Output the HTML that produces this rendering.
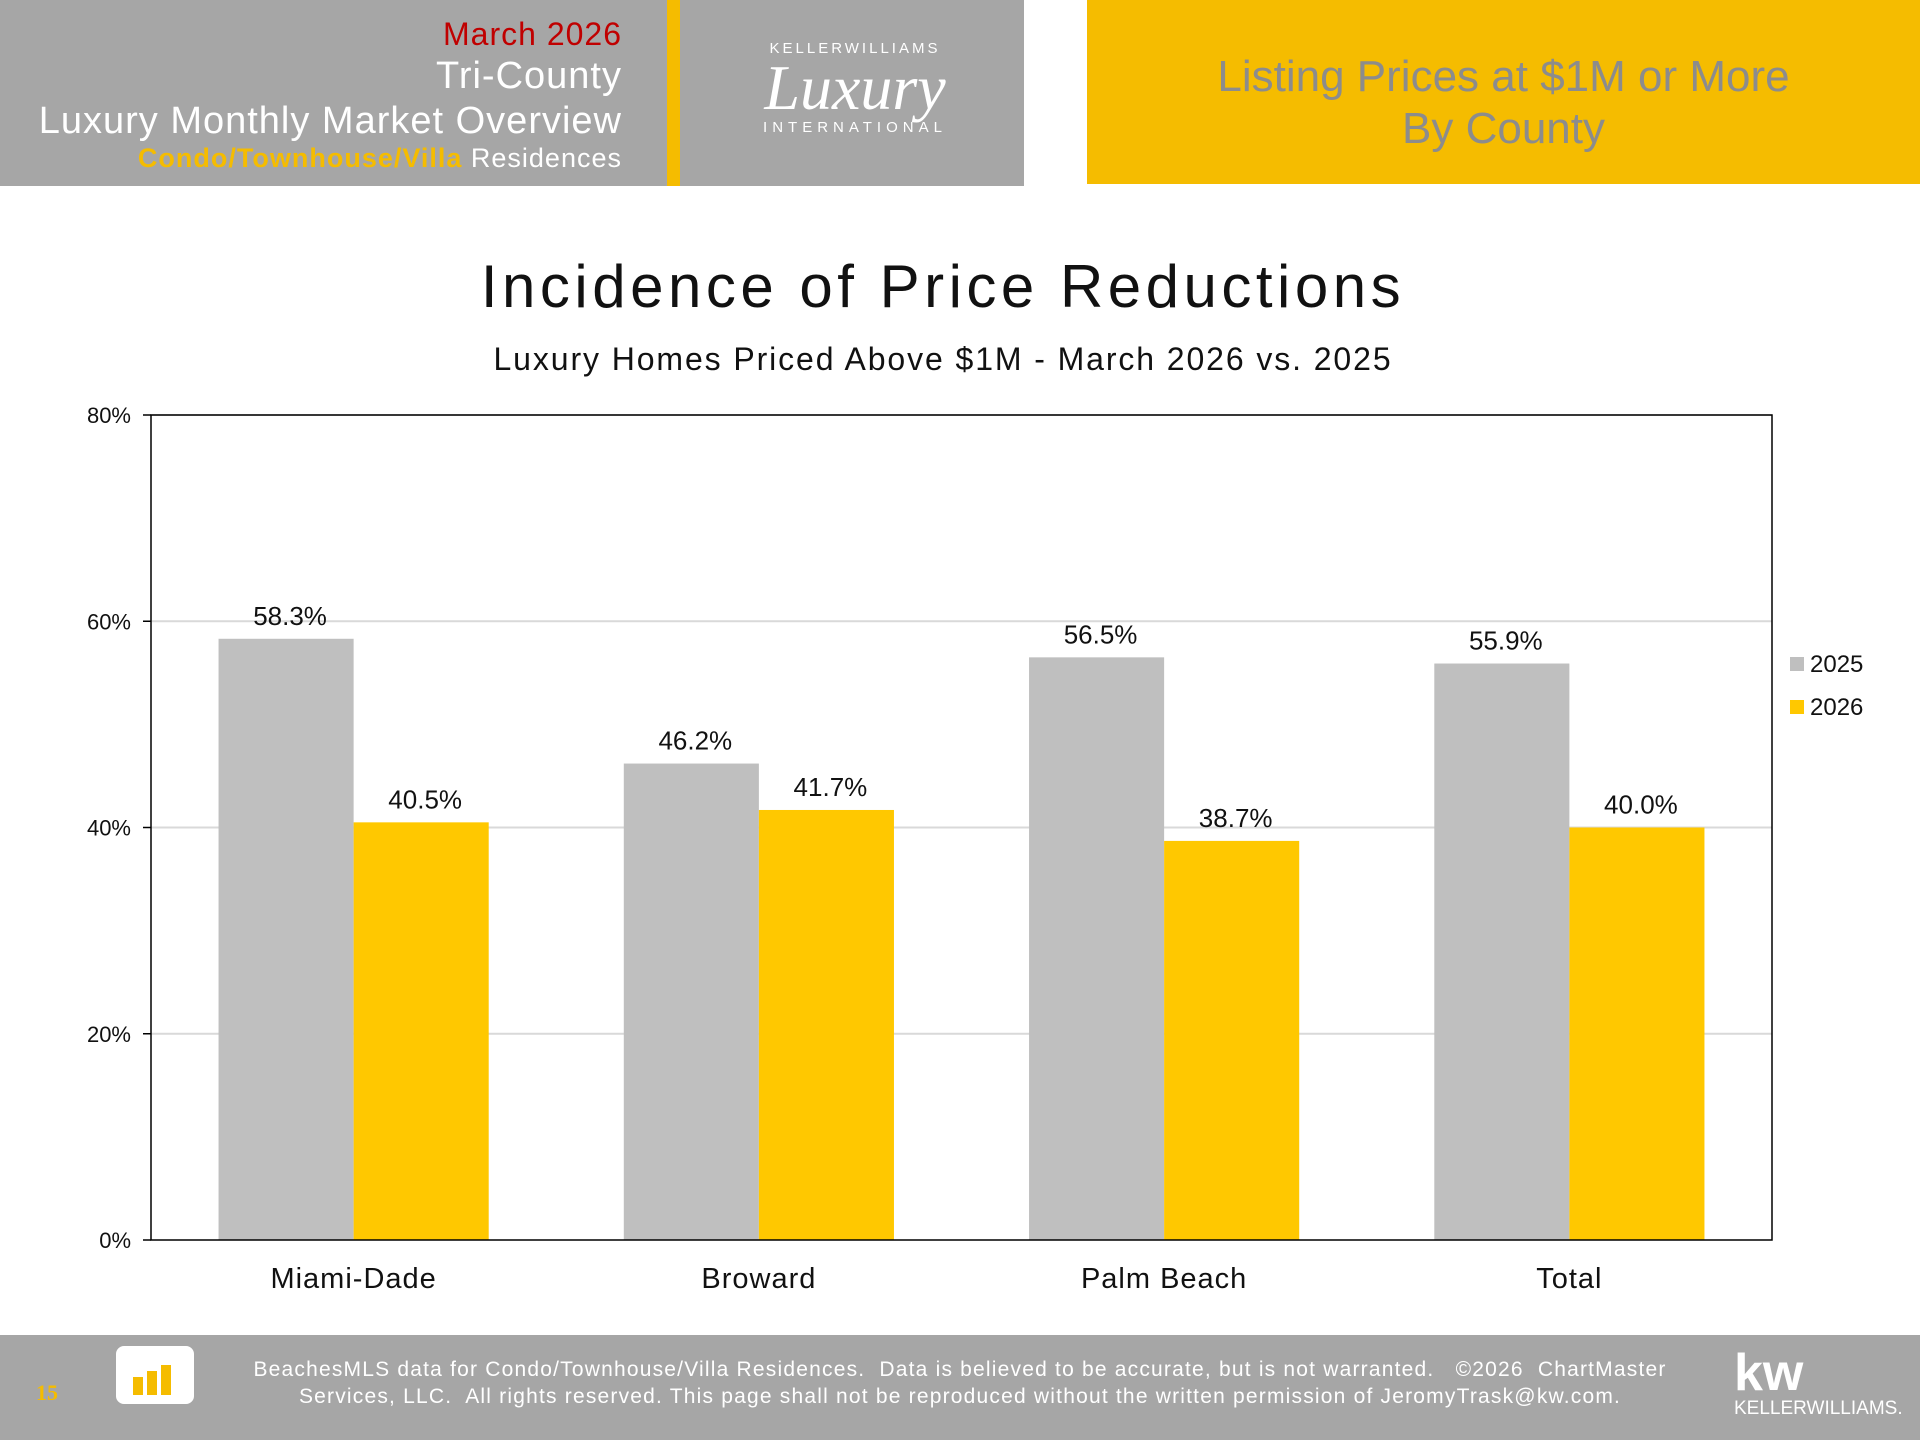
<!DOCTYPE html>
<html><head><meta charset="utf-8">
<style>
body{margin:0;width:1920px;height:1440px;position:relative;background:#fff;font-family:"Liberation Sans",sans-serif;overflow:hidden}
.abs{position:absolute}
</style></head><body>
<div class="abs" style="left:0;top:0;width:1024px;height:186px;background:#a6a6a6"></div>
<div class="abs" style="left:667px;top:0;width:13px;height:186px;background:#f5bc00"></div>
<div class="abs" style="right:1298px;top:16px;text-align:right;color:#fff;line-height:1.18;letter-spacing:1px">
<div style="color:#c00000;font-size:32px">March 2026</div>
<div style="font-size:38px">Tri-County</div>
<div style="font-size:38px">Luxury Monthly Market Overview</div>
<div style="font-size:27px"><b style="color:#f5bc00">Condo/Townhouse/Villa</b> Residences</div>
</div>
<div class="abs" style="left:700px;top:40px;width:310px;text-align:center;color:#fff">
<div style="font-size:15px;letter-spacing:3px">KELLERWILLIAMS</div>
<div style="font-family:'Liberation Serif',serif;font-style:italic;font-size:64px;line-height:62px">Luxury</div>
<div style="font-size:15px;letter-spacing:5px">INTERNATIONAL</div>
</div>
<div class="abs" style="left:1087px;top:0;width:833px;height:184px;background:#f5bc00;color:#8c8c8c;font-size:44px;text-align:center;display:flex;flex-direction:column;justify-content:center;line-height:52px;padding-top:22px;box-sizing:border-box">
<div>Listing Prices at $1M or More<br>By County</div></div>

<svg class="abs" style="left:0;top:0" width="1920" height="1440">
<text x="943" y="307" text-anchor="middle" font-size="60" letter-spacing="4.5" fill="#111">Incidence of Price Reductions</text>
<text x="943" y="370" text-anchor="middle" font-size="32" letter-spacing="1.9" fill="#111">Luxury Homes Priced Above $1M - March 2026 vs. 2025</text>
<g id="plot"></g>
</svg>

<div class="abs" style="left:0;top:1335px;width:1920px;height:105px;background:#a6a6a6"></div>
<div class="abs" style="left:36px;top:1380px;color:#f5bc00;font-weight:bold;font-size:22px;font-family:'Liberation Serif',serif">15</div>
<div class="abs" style="left:116px;top:1346px;width:72px;height:52px;border:3px solid #fff;border-radius:8px;background:#fff"><div style="position:absolute;left:14px;bottom:6px;width:10px;height:18px;background:#f5bc00"></div><div style="position:absolute;left:28px;bottom:6px;width:10px;height:24px;background:#f5bc00"></div><div style="position:absolute;left:42px;bottom:6px;width:10px;height:30px;background:#f5bc00"></div></div>
<div class="abs" style="left:230px;top:1356px;width:1460px;text-align:center;color:#fff;font-size:21px;line-height:27px;letter-spacing:1.2px">BeachesMLS data for Condo/Townhouse/Villa Residences.&nbsp; Data is believed to be accurate, but is not warranted.&nbsp;&nbsp; ©2026&nbsp; ChartMaster<br>Services, LLC.&nbsp; All rights reserved. This page shall not be reproduced without the written permission of JeromyTrask@kw.com.</div>
<div class="abs" style="left:1734px;top:1348px;color:#fff;text-align:left"><div style="font-size:52px;font-weight:bold;line-height:50px">kw</div><div style="font-size:19px">KELLERWILLIAMS.</div></div>

<script>
const categories=["Miami-Dade","Broward","Palm Beach","Total"];
const series2025=[58.3,46.2,56.5,55.9];
const series2026=[40.5,41.7,38.7,40.0];
const yTicks=[0,20,40,60,80];
const L=151,R=1772,T=415,B=1240,ymax=80;
const y=v=>B-(v/ymax)*(B-T);
const cw=(R-L)/categories.length;
const x=i=>L+cw*i;
const ns="http://www.w3.org/2000/svg";
const g=document.getElementById('plot');
function mk(t,a){const e=document.createElementNS(ns,t);for(const k in a)e.setAttribute(k,a[k]);g.appendChild(e);return e;}
yTicks.forEach(t=>{
 if(t>0){const l=mk('line',{x1:L,x2:R,y1:y(t),y2:y(t),stroke:'#d9d9d9','stroke-width':2});
 
 }
 const tk=mk('line',{x1:L-8,x2:L,y1:y(t),y2:y(t),stroke:'#000','stroke-width':1.5});
 
 
 const tx=mk('text',{x:L-20,y:y(t)+8,'text-anchor':'end','font-size':22,fill:'#111'});tx.textContent=t+'%';
 
 
});
const bw=cw/3;
categories.forEach((c,i)=>{
 [[series2025[i],'#bfbfbf',0],[series2026[i],'#ffc800',1]].forEach(([v,col,k])=>{
  const bx=x(i)+bw/2+k*bw;
  const r=mk('rect',{x:bx,y:y(v),width:bw,height:B-y(v),fill:col});
  
  
  const t=mk('text',{x:bx+bw/2+4,y:y(v)-14,'text-anchor':'middle','font-size':26,fill:'#111'});t.textContent=v.toFixed(1)+'%';
  
  
 });
 const cl=mk('text',{x:x(i)+cw/2,y:1288,'text-anchor':'middle','font-size':29,'letter-spacing':1,fill:'#111'});cl.textContent=c;
 
 
});
const fr=mk('rect',{x:L,y:T,width:R-L,height:B-T,fill:'none',stroke:'#000','stroke-width':1.5});


[['2025','#bfbfbf',665],['2026','#ffc800',708]].forEach(([n,c,yy])=>{
 const s=mk('rect',{x:1790,y:yy-8,width:14,height:14,fill:c});
 
 
 const t=mk('text',{x:1810,y:yy+7,'font-size':24,fill:'#111'});t.textContent=n;
 
 
});
</script>
</body></html>
